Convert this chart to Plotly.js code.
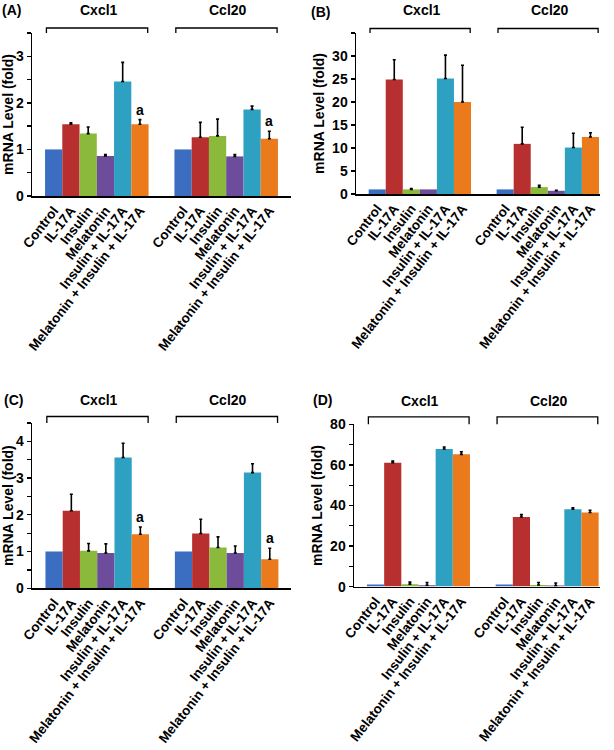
<!DOCTYPE html>
<html><head><meta charset="utf-8">
<script src="https://cdn.plot.ly/plotly-3.0.1.min.js"></script>
<style>body{margin:0;background:#fff}#chart{width:614px;height:750px}</style>
</head><body><div id="chart"></div>
<script>
// ---------- data ----------
const treatments = ["Control", "IL-17A", "Insulin", "Melatonin", "Insulin + IL-17A", "Melatonin + Insulin + IL-17A"];
const genes = ["Cxcl1", "Ccl20"];
const barColors = ["#3b6dc1", "#b7302f", "#8bb93c", "#6c4c9b", "#2ea1c3", "#ea7a1c"];

// Panel A
const A_cxcl1 = [1.00, 1.54, 1.34, 0.86, 2.46, 1.54];
const A_cxcl1_err = [null, 0.03, 0.14, 0.03, 0.41, 0.10];
const A_ccl20 = [1.00, 1.26, 1.29, 0.85, 1.86, 1.23];
const A_ccl20_err = [null, 0.32, 0.36, 0.04, 0.07, 0.16];
const A_marks = ["", "", "", "", "", "a"];

// Panel B
const B_cxcl1 = [1.0, 24.9, 1.0, 1.0, 25.1, 20.0];
const B_cxcl1_err = [null, 4.3, 0.2, null, 5.1, 8.0];
const B_ccl20 = [1.0, 10.9, 1.5, 0.7, 10.1, 12.4];
const B_ccl20_err = [null, 3.6, 0.4, 0.1, 3.1, 0.9];
const B_marks = ["", "", "", "", "", ""];

// Panel C
const C_cxcl1 = [1.00, 2.11, 1.02, 0.96, 3.56, 1.47];
const C_cxcl1_err = [null, 0.45, 0.20, 0.25, 0.39, 0.20];
const C_ccl20 = [1.00, 1.49, 1.11, 0.96, 3.15, 0.79];
const C_ccl20_err = [null, 0.39, 0.29, 0.19, 0.24, 0.30];
const C_marks = ["", "", "", "", "", "a"];

// Panel D
const D_cxcl1 = [1.0, 61.1, 1.2, 0.7, 67.8, 65.2];
const D_cxcl1_err = [null, 0.8, 1.0, 1.3, 1.0, 1.3];
const D_ccl20 = [1.0, 34.3, 0.8, 0.5, 38.1, 36.5];
const D_ccl20_err = [null, 1.2, 1.2, 1.3, 0.8, 1.1];
const D_marks = ["", "", "", "", "", ""];

const yTitle = "mRNA Level (fold)";
const panelNames = ["(A)", "(B)", "(C)", "(D)"];

// ---------- layout geometry (pixels) ----------
const W = 614, H = 750, GAP = 7.5;
const panels = [
  {name: panelNames[0], vals: [A_cxcl1, A_ccl20], errs: [A_cxcl1_err, A_ccl20_err], marks: A_marks,
   xpx: [32, 291], ypx: [33, 196], xr: [-1.256, 13.756], yr: [0, 3.5], tv: [0, 1, 2, 3], minor: 0.5,
   br: 5, lab: [12, 10]},
  {name: panelNames[1], vals: [B_cxcl1, B_ccl20], errs: [B_cxcl1_err, B_ccl20_err], marks: B_marks,
   xpx: [356, 600], ypx: [33, 194], xr: [-1.243, 13.06], yr: [0, 35], tv: [0, 5, 10, 15, 20, 25, 30], minor: 5,
   br: 4.5, lab: [320, 12]},
  {name: panelNames[2], vals: [C_cxcl1, C_ccl20], errs: [C_cxcl1_err, C_ccl20_err], marks: C_marks,
   xpx: [32, 291], ypx: [423, 588.3], xr: [-1.28, 13.73], yr: [0, 4.5], tv: [0, 1, 2, 3, 4], minor: 0.5,
   br: 6.5, lab: [13, 400]},
  {name: panelNames[3], vals: [D_cxcl1, D_ccl20], errs: [D_cxcl1_err, D_ccl20_err], marks: D_marks,
   xpx: [354, 600], ypx: [424.3, 586.6], xr: [-1.258, 13.08], yr: [0, 80], tv: [0, 20, 40, 60, 80], minor: 10,
   br: 7.5, lab: [322, 400]}
];

const boldFont = (s) => ({family: "Liberation Sans, Arial, sans-serif", size: s, color: "#000", weight: "bold"});

const traces = [];
const layout = {
  width: W, height: H, margin: {l: 0, r: 0, t: 0, b: 0},
  paper_bgcolor: "#fff", plot_bgcolor: "#fff", showlegend: false,
  font: boldFont(12), annotations: [], shapes: []
};

panels.forEach((p, k) => {
  const n = k + 1;
  const xa = "xaxis" + (n === 1 ? "" : n), ya = "yaxis" + (n === 1 ? "" : n);
  const xr = "x" + (n === 1 ? "" : n), yr = "y" + (n === 1 ? "" : n);
  const tickvals = [], ticktext = [];
  genes.forEach((g, gi) => {
    const xs = treatments.map((t, i) => gi * GAP + i);
    xs.forEach((x, i) => { tickvals.push(x); ticktext.push(treatments[i]); });
    const up = p.errs[gi].map(e => (e === null ? NaN : e));
    const down = p.errs[gi].map(e => (e === null ? NaN : 0));
    traces.push({
      type: "bar", x: xs, y: p.vals[gi], xaxis: xr, yaxis: yr, width: 1,
      marker: {color: barColors, line: {width: 0}},
      error_y: {type: "data", symmetric: false, array: up, arrayminus: down,
                color: "#000", thickness: 1.6, width: 1.5},
      hoverinfo: "x+y", name: g
    });
    // significance marks
    p.marks.forEach((m, i) => {
      if (!m) return;
      layout.annotations.push({xref: xr, yref: yr, x: xs[i], y: p.vals[gi][i] + (p.errs[gi][i] || 0),
        yanchor: "bottom", yshift: 0, text: m, showarrow: false, font: boldFont(14)});
    });
    // bracket
    const hpx = p.ypx[1] - p.ypx[0];
    const yt = 1 + p.br / hpx;
    const x0 = gi * GAP - 0.42, x1 = gi * GAP + 5.45;
    layout.shapes.push({type: "path", xref: xr, yref: yr + " domain",
      path: `M${x0},1 L${x0},${yt} L${x1},${yt} L${x1},1`, line: {color: "#000", width: 1.3}});
    layout.annotations.push({xref: xr, yref: yr + " domain", x: gi * GAP + 2.6, y: 1, yanchor: "middle",
      yshift: 23, text: g, showarrow: false, font: boldFont(14)});
  });
  layout[xa] = {
    domain: [p.xpx[0] / W, p.xpx[1] / W], range: p.xr, anchor: yr,
    tickvals: tickvals, ticktext: ticktext, tickangle: -52, ticks: "",
    showline: true, linecolor: "#000", linewidth: 1.5, showgrid: false, zeroline: false,
    tickfont: boldFont(13.5), fixedrange: true
  };
  layout[ya] = {
    domain: [1 - p.ypx[1] / H, 1 - p.ypx[0] / H], range: p.yr, anchor: xr,
    tickvals: p.tv, ticks: "outside", ticklen: 4, tickwidth: 1.3, tickcolor: "#000",
    minor: {dtick: p.minor, tick0: 0, ticks: "outside", ticklen: 4, tickwidth: 1.3, tickcolor: "#000"},
    showline: true, linecolor: "#000", linewidth: 1.5, showgrid: false, zeroline: false,
    tickfont: boldFont(14), fixedrange: true,
    title: {text: yTitle, font: boldFont(14), standoff: 4}
  };
  layout.annotations.push({xref: "paper", yref: "paper", x: p.lab[0] / W, y: 1 - p.lab[1] / H,
    xanchor: "center", yanchor: "middle", text: p.name, showarrow: false, font: boldFont(14)});
});

Plotly.newPlot("chart", traces, layout, {displayModeBar: false, staticPlot: true});
</script>
</body></html>
